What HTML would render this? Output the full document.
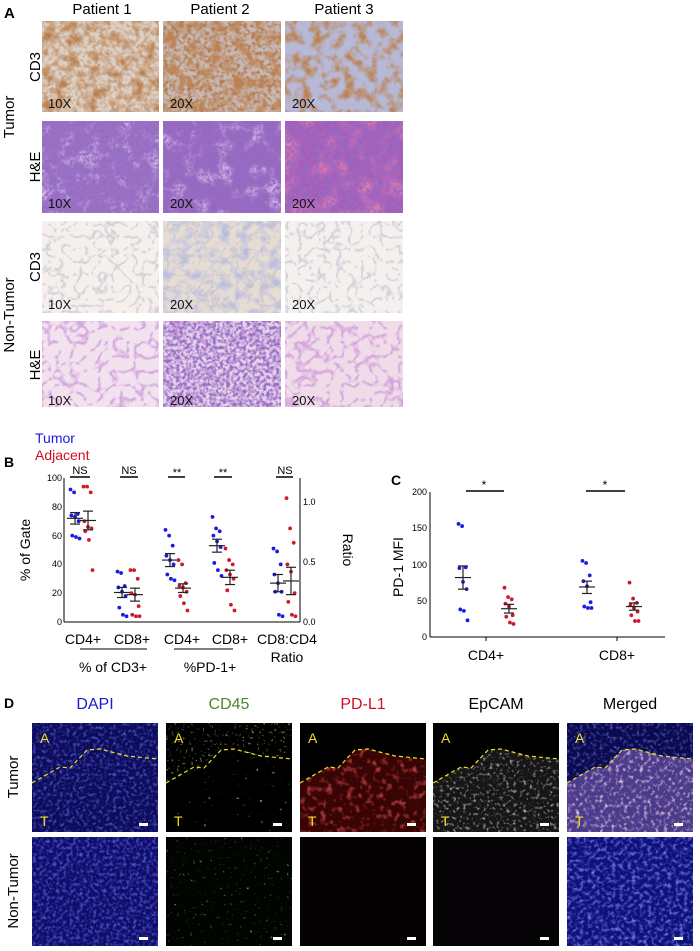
<!DOCTYPE html>
<html><head><meta charset="utf-8"><style>
body{margin:0;background:#fff;}
svg{display:block;font-family:"Liberation Sans",sans-serif;}
</style></head><body>
<svg id="s" width="700" height="951" viewBox="0 0 700 951" xmlns="http://www.w3.org/2000/svg">
<defs>
<filter id="fBrown" x="0" y="0" width="1" height="1"><feTurbulence type="fractalNoise" baseFrequency="0.09" numOctaves="3" seed="3"/><feColorMatrix values="0 0 0 0 0.5 0 0 0 0 0.22 0 0 0 0 0.08 2.8 0 0 0 -1.2"/></filter>
<filter id="fBrown2" x="0" y="0" width="1" height="1"><feTurbulence type="fractalNoise" baseFrequency="0.25" numOctaves="2" seed="7"/><feColorMatrix values="0 0 0 0 0.45 0 0 0 0 0.2 0 0 0 0 0.08 3.5 0 0 0 -1.5"/></filter>
<filter id="fBlue" x="0" y="0" width="1" height="1"><feTurbulence type="fractalNoise" baseFrequency="0.1" numOctaves="3" seed="11"/><feColorMatrix values="0 0 0 0 0.45 0 0 0 0 0.5 0 0 0 0 0.75 2.5 0 0 0 -1.1"/></filter>
<filter id="fPurp" x="0" y="0" width="1" height="1"><feTurbulence type="fractalNoise" baseFrequency="0.3" numOctaves="2" seed="5"/><feColorMatrix values="0 0 0 0 0.3 0 0 0 0 0.15 0 0 0 0 0.55 3.2 0 0 0 -1.2"/></filter>
<filter id="fPurp2" x="0" y="0" width="1" height="1"><feTurbulence type="fractalNoise" baseFrequency="0.06" numOctaves="3" seed="13"/><feColorMatrix values="0 0 0 0 0.8 0 0 0 0 0.6 0 0 0 0 0.9 2.6 0 0 0 -1.3"/></filter>
<filter id="fPink" x="0" y="0" width="1" height="1"><feTurbulence type="fractalNoise" baseFrequency="0.05" numOctaves="3" seed="9"/><feColorMatrix values="0 0 0 0 0.85 0 0 0 0 0.2 0 0 0 0 0.4 2.8 0 0 0 -1.3"/></filter>
<filter id="fLace" x="0" y="0" width="1" height="1"><feTurbulence type="turbulence" baseFrequency="0.07" numOctaves="2" seed="4"/><feColorMatrix values="0 0 0 0 0.6 0 0 0 0 0.3 0 0 0 0 0.7 -4 0 0 0 0.9"/></filter>
<filter id="fGrey" x="0" y="0" width="1" height="1"><feTurbulence type="turbulence" baseFrequency="0.08" numOctaves="2" seed="2"/><feColorMatrix values="0 0 0 0 0.5 0 0 0 0 0.5 0 0 0 0 0.6 -4 0 0 0 0.75"/></filter>
</defs>

<text x="4" y="18" font-size="15" font-weight="bold">A</text>
<g font-size="15" text-anchor="middle">
<text x="102" y="14">Patient 1</text><text x="220" y="14">Patient 2</text><text x="344" y="14">Patient 3</text>
</g>
<g font-size="15" text-anchor="middle">
<text transform="translate(14,117) rotate(-90)">Tumor</text>
<text transform="translate(14,315) rotate(-90)">Non-Tumor</text>
<text transform="translate(40,67) rotate(-90)">CD3</text>
<text transform="translate(40,167) rotate(-90)">H&amp;E</text>
<text transform="translate(40,267) rotate(-90)">CD3</text>
<text transform="translate(40,365) rotate(-90)">H&amp;E</text>
</g>
<g>
<rect x="42" y="21" width="117" height="91" fill="#ddd0c4"/><rect x="42" y="21" width="117" height="91" filter="url(#fBrown)"/><rect x="42" y="21" width="117" height="91" filter="url(#fBrown2)" opacity="0.5"/>
<rect x="163" y="21" width="118" height="91" fill="#c8b8b4"/><rect x="163" y="21" width="118" height="91" filter="url(#fBrown2)"/><rect x="163" y="21" width="118" height="91" filter="url(#fBrown)"/>
<rect x="285" y="21" width="118" height="91" fill="#b8b8d4"/><rect x="285" y="21" width="118" height="91" filter="url(#fBlue)"/><rect x="285" y="21" width="118" height="91" filter="url(#fBrown)"/>
</g>
<g>
<rect x="42" y="121" width="117" height="92" fill="#9a72c4"/><rect x="42" y="121" width="117" height="92" filter="url(#fPurp2)"/><rect x="42" y="121" width="117" height="92" filter="url(#fPurp)"/>
<rect x="163" y="121" width="118" height="92" fill="#9868c0"/><rect x="163" y="121" width="118" height="92" filter="url(#fPurp2)"/><rect x="163" y="121" width="118" height="92" filter="url(#fPurp)"/>
<rect x="285" y="121" width="118" height="92" fill="#a85cb8"/><rect x="285" y="121" width="118" height="92" filter="url(#fPink)"/><rect x="285" y="121" width="118" height="92" filter="url(#fPurp)"/>
</g>
<g>
<rect x="42" y="221" width="117" height="92" fill="#f6f0ec"/><rect x="42" y="221" width="117" height="92" filter="url(#fGrey)"/>
<rect x="163" y="221" width="118" height="92" fill="#e6dcd4"/><rect x="163" y="221" width="118" height="92" filter="url(#fBlue)"/><rect x="163" y="221" width="118" height="92" filter="url(#fGrey)"/>
<rect x="285" y="221" width="118" height="92" fill="#f4f0ee"/><rect x="285" y="221" width="118" height="92" filter="url(#fGrey)"/>
</g>
<g>
<rect x="42" y="321" width="117" height="86" fill="#f2e2ee"/><rect x="42" y="321" width="117" height="86" filter="url(#fLace)"/>
<rect x="163" y="321" width="118" height="86" fill="#e8d4ea"/><rect x="163" y="321" width="118" height="86" filter="url(#fLace)"/><rect x="163" y="321" width="118" height="86" filter="url(#fPurp)"/>
<rect x="285" y="321" width="118" height="86" fill="#f0dce8"/><rect x="285" y="321" width="118" height="86" filter="url(#fLace)"/>
</g>
<g font-size="13" fill="#111">
<text x="48" y="108">10X</text><text x="170" y="108">20X</text><text x="292" y="108">20X</text>
<text x="48" y="208">10X</text><text x="170" y="208">20X</text><text x="292" y="208">20X</text>
<text x="48" y="309">10X</text><text x="170" y="309">20X</text><text x="292" y="309">20X</text>
<text x="48" y="405">10X</text><text x="170" y="405">20X</text><text x="292" y="405">20X</text>
</g>

<text x="4" y="467" font-size="14" font-weight="bold">B</text>
<text x="35" y="443" font-size="14" fill="#1a1adc">Tumor</text>
<text x="35" y="460" font-size="14" fill="#d01020">Adjacent</text>
<g stroke="#000" fill="none">
<line x1="64" y1="478" x2="64" y2="622"/><line x1="64" y1="622" x2="300" y2="622"/><line x1="300" y1="478" x2="300" y2="622"/>
</g>
<g font-size="9" text-anchor="end">
<text x="62" y="625">0</text><text x="62" y="596">20</text><text x="62" y="567">40</text><text x="62" y="539">60</text><text x="62" y="510">80</text><text x="62" y="481">100</text>
</g>
<g font-size="9"><text x="303" y="625">0.0</text><text x="303" y="565">0.5</text><text x="303" y="505">1.0</text></g>
<text transform="translate(30,550) rotate(-90)" font-size="14" text-anchor="middle">% of Gate</text>
<text transform="translate(343,550) rotate(90)" font-size="14" text-anchor="middle">Ratio</text>
<g font-size="14" text-anchor="middle">
<text x="83" y="644">CD4+</text><text x="132" y="644">CD8+</text><text x="182" y="644">CD4+</text><text x="230" y="644">CD8+</text><text x="287" y="644">CD8:CD4</text><text x="287" y="662">Ratio</text>
<text x="113" y="672">% of CD3+</text><text x="210" y="672">%PD-1+</text>
</g>
<g stroke="#555" stroke-width="1.5"><line x1="80" y1="649" x2="147" y2="649"/><line x1="174" y1="649" x2="233" y2="649"/></g>
<g stroke="#000" stroke-width="1.5"><line x1="70" y1="477" x2="90" y2="477"/><line x1="120" y1="477" x2="138" y2="477"/><line x1="168" y1="477" x2="185" y2="477"/><line x1="214" y1="477" x2="232" y2="477"/><line x1="276" y1="477" x2="293" y2="477"/></g>
<g font-size="11" text-anchor="middle"><text x="80" y="474">NS</text><text x="129" y="474">NS</text><text x="177" y="476">**</text><text x="223" y="476">**</text><text x="285" y="474">NS</text></g>

<text x="391" y="485" font-size="14" font-weight="bold">C</text>
<g stroke="#000" fill="none"><line x1="430" y1="492" x2="430" y2="637"/><line x1="430" y1="637" x2="665" y2="637"/><line x1="486" y1="637" x2="486" y2="641"/><line x1="617" y1="637" x2="617" y2="641"/></g>
<g font-size="9" text-anchor="end"><text x="427" y="640">0</text><text x="427" y="604">50</text><text x="427" y="568">100</text><text x="427" y="531">150</text><text x="427" y="495">200</text></g>
<text transform="translate(403,567) rotate(-90)" font-size="14" text-anchor="middle">PD-1 MFI</text>
<g font-size="14" text-anchor="middle"><text x="486" y="660">CD4+</text><text x="617" y="660">CD8+</text></g>
<g stroke="#000" stroke-width="1.5"><line x1="466" y1="491" x2="504" y2="491"/><line x1="586" y1="491" x2="625" y2="491"/></g>
<g font-size="12" text-anchor="middle"><text x="484" y="489">*</text><text x="605" y="489">*</text></g>

<text x="4" y="708" font-size="14" font-weight="bold">D</text>
<g font-size="16" text-anchor="middle">
<text x="95" y="709" fill="#1a1ad0">DAPI</text><text x="229" y="709" fill="#4a8a2a">CD45</text><text x="363" y="709" fill="#d01020">PD-L1</text><text x="496" y="709">EpCAM</text><text x="630" y="709">Merged</text>
</g>
<g font-size="15" text-anchor="middle">
<text transform="translate(18,777) rotate(-90)">Tumor</text>
<text transform="translate(18,891) rotate(-90)">Non-Tumor</text>
</g>
<g id="D"></g>
<g id="dots"></g>
</svg>
<script>
(function(){
var NS="http://www.w3.org/2000/svg";
var svg=document.getElementById('s');
function el(t,a,p){var e=document.createElementNS(NS,t);for(var k in a)e.setAttribute(k,a[k]);(p||svg).appendChild(e);return e;}
var g=document.getElementById('dots');
function group(cx,vals,col,ymap,m,lo,hi){
  vals.forEach(function(v,i){var dx=((i*37)%11-5)*0.9;el('circle',{cx:cx+dx,cy:ymap(v),r:1.9,fill:col},g);});
  el('line',{x1:cx-8,x2:cx+8,y1:ymap(m),y2:ymap(m),stroke:'#222','stroke-width':1.2},g);
  el('line',{x1:cx-5,x2:cx+5,y1:ymap(lo),y2:ymap(lo),stroke:'#222','stroke-width':1.2},g);
  el('line',{x1:cx-5,x2:cx+5,y1:ymap(hi),y2:ymap(hi),stroke:'#222','stroke-width':1.2},g);
  el('line',{x1:cx,x2:cx,y1:ymap(lo),y2:ymap(hi),stroke:'#222','stroke-width':1.2},g);
}
var B=function(v){return 622-v*1.44;}, C=function(v){return 637-v*0.725;};
var bl='#1a1ae0',rd='#d01828';
group(75,[92,90,75,74,73,70,60,59,58],bl,B,72,68,76);
group(88,[94,94,90,70,66,65,63,57,36],rd,B,70.5,64,77);
group(122,[35,34,25,24,21,18,10,5,4],bl,B,20.5,17,24);
group(135,[36,36,30,20,19,11,5,4,4],rd,B,19,14.5,23.5);
group(170,[64,60,53,46,43,40,33,30,29],bl,B,43,38.5,47.5);
group(183,[43,40,27,25,24,21,18,13,8],rd,B,23.5,20.5,26.5);
group(217,[73,65,63,60,56,52,41,36,32],bl,B,53,48.5,57.5);
group(230,[51,43,40,36,33,30,22,12,8],rd,B,31,26,36);
group(278,[51,49,40,33,27,21,21,5,4],bl,B,27,21,33);
group(291,[86,65,55,40,35,20,14,5,4],rd,B,28.5,19,38);
group(463,[156,153,96,95,76,66,38,36,23],bl,C,82,66,98);
group(509,[68,55,52,46,42,30,28,20,18],rd,C,39,33,45);
group(587,[105,102,85,77,70,48,42,40,40],bl,C,69,60,77);
group(634,[75,53,47,44,40,35,30,22,22],rd,C,42,37,47);
var D=document.getElementById('D');
var defs=svg.querySelector('defs');
var xs=[32,166,300,433,567],w=126,fid=0;
function noise(x,y,col,alpha,freq,seed,clip){
  var id='fn'+(fid++);
  var f=el('filter',{id:id,x:0,y:0,width:1,height:1},defs);
  el('feTurbulence',{type:'fractalNoise',baseFrequency:freq,numOctaves:2,seed:seed},f);
  el('feColorMatrix',{values:'0 0 0 0 '+col[0]+' 0 0 0 0 '+col[1]+' 0 0 0 0 '+col[2]+' '+alpha},f);
  var a={x:x,y:y,width:w,height:109,filter:'url(#'+id+')'};
  if(clip)a['clip-path']='url(#'+clip+')';
  el('rect',a,D);
}
var pts=[[0,60],[28,44],[38,45],[55,27],[68,26],[95,33],[126,36]];
function below(x,y){return 'M'+x+' '+(y+109)+' H'+(x+w)+' V'+(y+36)+' L'+(x+95)+' '+(y+33)+' L'+(x+68)+' '+(y+26)+' L'+(x+55)+' '+(y+27)+' L'+(x+38)+' '+(y+45)+' L'+(x+28)+' '+(y+44)+' L'+x+' '+(y+60)+'Z';}
function above(x,y){return 'M'+x+' '+y+' H'+(x+w)+' V'+(y+36)+' L'+(x+95)+' '+(y+33)+' L'+(x+68)+' '+(y+26)+' L'+(x+55)+' '+(y+27)+' L'+(x+38)+' '+(y+45)+' L'+(x+28)+' '+(y+44)+' L'+x+' '+(y+60)+'Z';}
var yT=723,yN=837;
xs.forEach(function(x,i){
  var cp=el('clipPath',{id:'cb'+i},defs); el('path',{d:below(x,yT)},cp);
  var ca=el('clipPath',{id:'ca'+i},defs); el('path',{d:above(x,yT)},ca);
});
el('rect',{x:32,y:yT,width:w,height:109,fill:'#0c0c5c'},D); noise(32,yT,[0.15,0.15,0.85],'2 0 0 0 -0.95',0.3,1);
el('rect',{x:32,y:yN,width:w,height:109,fill:'#0e0e6a'},D); noise(32,yN,[0.15,0.15,0.9],'2 0 0 0 -0.9',0.3,2);
el('rect',{x:166,y:yT,width:w,height:109,fill:'#000'},D); noise(166,yT,[0.45,0.75,0.2],'3.5 0 0 0 -2.2',0.35,3,'ca1'); noise(166,yT,[0.45,0.8,0.2],'4 0 0 0 -2.9',0.25,4,'cb1');
el('rect',{x:166,y:yN,width:w,height:109,fill:'#020402'},D); noise(166,yN,[0.3,0.55,0.15],'4 0 0 0 -2.8',0.3,5);
el('rect',{x:300,y:yT,width:w,height:109,fill:'#000'},D); el('path',{d:below(300,yT),fill:'#380404'},D); noise(300,yT,[0.75,0.08,0.08],'2.4 0 0 0 -1.25',0.15,6,'cb2');
el('rect',{x:300,y:yN,width:w,height:109,fill:'#060103'},D);
el('rect',{x:433,y:yT,width:w,height:109,fill:'#000'},D); el('path',{d:below(433,yT),fill:'#161616'},D); noise(433,yT,[0.8,0.8,0.8],'2.4 0 0 0 -1.3',0.3,7,'cb3');
el('rect',{x:433,y:yN,width:w,height:109,fill:'#060306'},D);
el('rect',{x:567,y:yT,width:w,height:109,fill:'#0a0a50'},D); noise(567,yT,[0.2,0.2,0.8],'2 0 0 0 -1',0.3,8,'ca4');
el('path',{d:below(567,yT),fill:'#4a3a8a'},D); noise(567,yT,[0.95,0.75,0.9],'2.4 0 0 0 -1.2',0.25,9,'cb4'); noise(567,yT,[0.1,0.05,0.3],'2.6 0 0 0 -1.4',0.12,10,'cb4');
el('rect',{x:567,y:yN,width:w,height:109,fill:'#10107a'},D); noise(567,yN,[0.2,0.25,1],'2.2 0 0 0 -1',0.25,11);
xs.forEach(function(x,i){
  el('polyline',{points:pts.map(function(p){return (x+p[0])+','+(yT+p[1]);}).join(' '),fill:'none',stroke:'#f0e020','stroke-width':1.2,'stroke-dasharray':'4 3'},D);
  el('text',{x:x+8,y:yT+20,fill:'#f0e020','font-size':14},D).textContent='A';
  el('text',{x:x+8,y:yT+103,fill:'#f0e020','font-size':14},D).textContent='T';
  el('rect',{x:x+w-19,y:yT+100,width:9,height:3,fill:'#fff'},D);
  el('rect',{x:x+w-19,y:yN+100,width:9,height:3,fill:'#fff'},D);
});
})();
</script>
</body></html>
